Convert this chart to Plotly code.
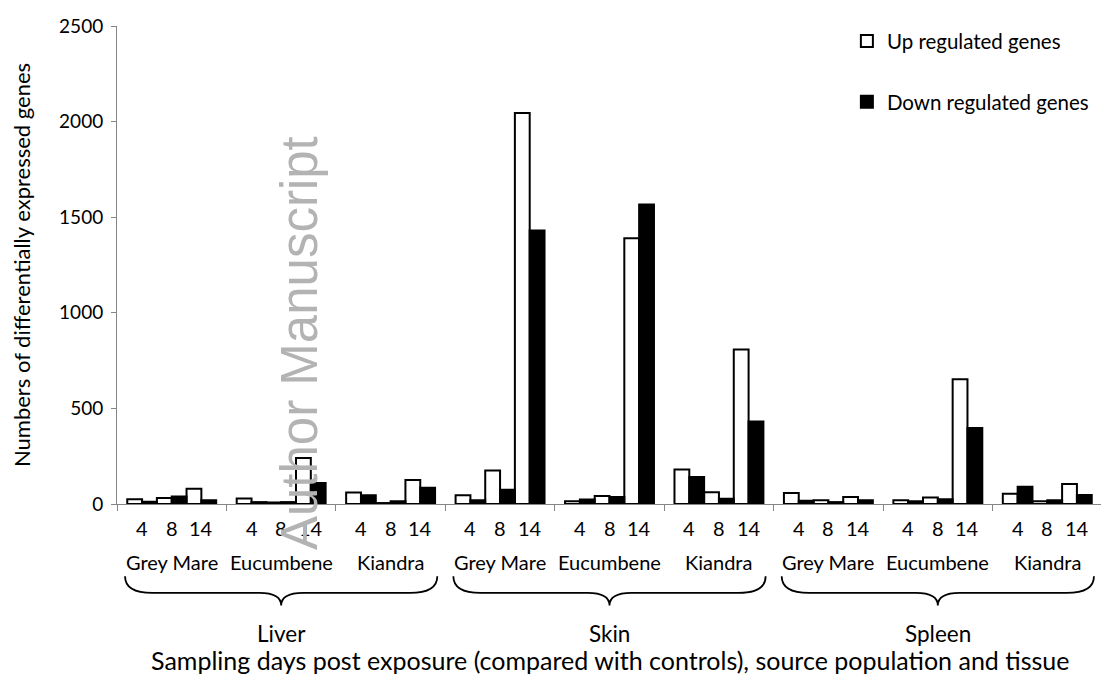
import plotly.graph_objects as go

# ---------------- data ----------------
tissues = ["Liver", "Skin", "Spleen"]
populations = ["Grey Mare", "Eucumbene", "Kiandra"]
days = ["4", "8", "14"]

# order: tissue -> population -> day
up_regulated = [
    25, 32, 80,     29, 8, 240,     60, 5, 126,      # Liver
    46, 175, 2045,  14, 42, 1390,   180, 61, 808,    # Skin
    58, 19, 36,     20, 34, 652,    53, 14, 104,     # Spleen
]
down_regulated = [
    12, 39, 20,     10, 10, 110,    46, 14, 85,      # Liver
    20, 75, 1430,   24, 36, 1567,   141, 27, 432,    # Skin
    17, 10, 19,     14, 25, 398,    90, 19, 47,      # Spleen
]
y_ticks = [0, 500, 1000, 1500, 2000, 2500]

series_names = ["Up regulated genes", "Down regulated genes"]
x_title = "Sampling days post exposure (compared with controls), source population and tissue"
y_title = "Numbers of differentially expressed genes"
watermark = "Author Manuscript"

# ---------------- layout helpers ----------------
GROUP = 3.0          # axis units per population group
PAIR = 0.8125        # width of an up/down pair
BAR = PAIR / 2

n_groups = len(tissues) * len(populations)
x_pos, day_lab, grp_center = [], [], []
for t in range(len(tissues)):
    for p in range(len(populations)):
        g = t * len(populations) + p
        c = g * GROUP + GROUP / 2
        grp_center.append(c)
        for d in range(len(days)):
            x_pos.append(c + (d - 1) * PAIR)
            day_lab.append(days[d])

FONT = "Lato, Calibri, Arial, sans-serif"


def txt(size):
    return dict(size=size, color="black", family=FONT)


fig = go.Figure()
fig.add_trace(go.Bar(
    x=x_pos, y=up_regulated, width=BAR, offset=-BAR,
    name=series_names[0], legendgroup="up",
    marker=dict(color="white", line=dict(color="black", width=2)),
))
fig.add_trace(go.Bar(
    x=x_pos, y=down_regulated, width=BAR, offset=0,
    name=series_names[1], legendgroup="down",
    marker=dict(color="black", line=dict(color="black", width=2)),
))

annotations = []
# day labels
for x, lab in zip(x_pos, day_lab):
    annotations.append(dict(x=x, y=-0.051, xref="x", yref="paper", text=lab,
                            xanchor="center", yanchor="middle",
                            showarrow=False, font=txt(20)))
# population labels
for i, c in enumerate(grp_center):
    annotations.append(dict(x=c, y=-0.1205, xref="x", yref="paper",
                            text=populations[i % len(populations)], showarrow=False,
                            xanchor="center", yanchor="middle", font=txt(20)))
# tissue labels + braces
shapes = []
span = GROUP * len(populations)
for t, name in enumerate(tissues):
    xc = t * span + span / 2
    annotations.append(dict(x=xc, y=-0.2715, xref="x", yref="paper", text=name,
                            xanchor="center", yanchor="middle",
                            showarrow=False, font=txt(22.5)))
    x0 = t * span + 0.22
    x1 = (t + 1) * span - 0.22
    yt, ym, yb = -0.151, -0.186, -0.2125
    a, b = 0.75, 0.6
    path = (f"M {x0},{yt} Q {x0},{ym} {x0 + a},{ym} L {xc - b},{ym} "
            f"Q {xc},{ym} {xc},{yb} Q {xc},{ym} {xc + b},{ym} "
            f"L {x1 - a},{ym} Q {x1},{ym} {x1},{yt}")
    shapes.append(dict(type="path", path=path, xref="x", yref="paper",
                       line=dict(color="black", width=1.8)))
# x title
annotations.append(dict(x=0.5, y=-0.3255, xref="paper", yref="paper", text=x_title,
                        xanchor="center", yanchor="middle",
                        showarrow=False, font=txt(25)))
# watermark
annotations.append(dict(x=0.186, y=0.337, xref="paper", yref="paper", text=watermark,
                        textangle=-90, showarrow=False, xanchor="center", yanchor="middle",
                        font=dict(size=51, color="#b3b3b3",
                                  family="Liberation Sans, Arial, sans-serif")))

fig.update_layout(
    width=1109, height=680,
    margin=dict(l=109, r=15, t=6, b=184),
    paper_bgcolor="white", plot_bgcolor="white",
    barmode="overlay",
    font=txt(19),
    showlegend=True,
    legend=dict(x=0.741, y=1.01, xanchor="left", yanchor="top",
                font=txt(20.5), tracegroupgap=31, bgcolor="rgba(0,0,0,0)"),
    xaxis=dict(range=[0, n_groups * GROUP], tickvals=[i * GROUP for i in range(n_groups + 1)],
               showticklabels=False, ticks="outside", ticklen=6, tickcolor="#868686",
               showline=True, linecolor="#868686", linewidth=1, showgrid=False, zeroline=False),
    yaxis=dict(range=[0, 2500], tickvals=y_ticks, ticks="outside", ticklen=5,
               tickcolor="#868686", showline=True, linecolor="#868686", linewidth=1,
               showgrid=False, zeroline=False, tickfont=txt(19), ticklabelstandoff=4,
               ticklabeloverflow="allow",
               title=dict(text=y_title, standoff=28, font=txt(22))),
    annotations=annotations, shapes=shapes,
)

fig.write_html("out.html")
